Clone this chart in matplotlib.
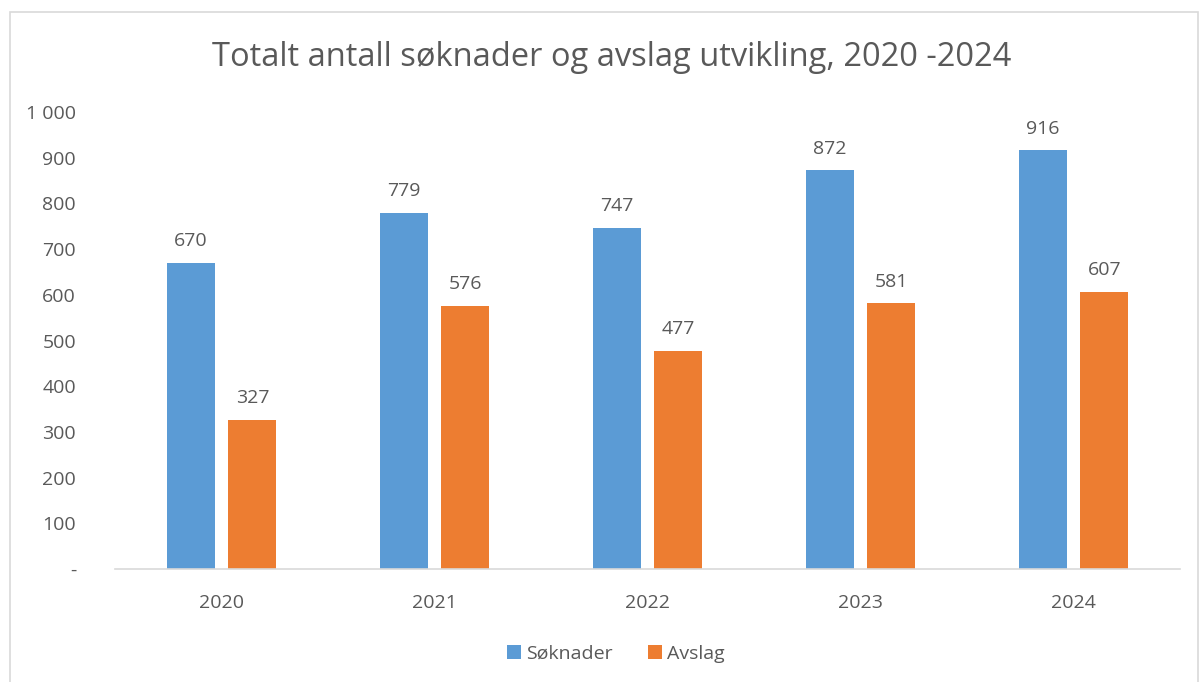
import matplotlib
matplotlib.use('Agg')
import matplotlib.pyplot as plt
import numpy as np
from matplotlib.patches import Rectangle

plt.rcParams['font.family'] = ['Open Sans', 'DejaVu Sans']

years = ['2020', '2021', '2022', '2023', '2024']
soknader = [670, 779, 747, 872, 916]
avslag = [327, 576, 477, 581, 607]
yticks = [0, 100, 200, 300, 400, 500, 600, 700, 800, 900, 1000]
ylabels = ['-', '100', '200', '300', '400', '500', '600', '700', '800', '900', '1 000']

blue = '#5b9bd5'
orange = '#ed7d31'
txt = '#595959'

fig = plt.figure(figsize=(12, 6.82), dpi=100)
ax = fig.add_axes([115 / 1200, 1 - 569 / 682, 1065 / 1200, 457 / 682])

# ramme rundt figuren
fig.patches.append(Rectangle((10 / 1200, -0.01), 1188 / 1200, 1 - 12 / 682 + 0.01,
                             transform=fig.transFigure, fill=False,
                             edgecolor='#d9d9d9', linewidth=1.2))

x = np.arange(len(years))
w = 0.225
b1 = ax.bar(x - 0.145, soknader, w, color=blue, label='Søknader')
b2 = ax.bar(x + 0.145, avslag, w, color=orange, label='Avslag')

for bars in (b1, b2):
    for r in bars:
        ax.text(r.get_x() + r.get_width() / 2, r.get_height() + 28, str(int(r.get_height())),
                ha='center', va='bottom', fontsize=14, color=txt)

ax.set_xlim(-0.5, 4.5)
ax.set_ylim(0, 1000)
ax.set_yticks(yticks)
ax.set_yticklabels(ylabels)
ax.set_xticks(x)
ax.set_xticklabels(years)
ax.tick_params(axis='both', length=0, labelsize=14, labelcolor=txt)
ax.tick_params(axis='x', pad=18)
ax.tick_params(axis='y', pad=28)
for s in ['top', 'right', 'left']:
    ax.spines[s].set_visible(False)
ax.spines['bottom'].set_color('#d9d9d9')
ax.spines['bottom'].set_linewidth(1.2)

fig.suptitle('Totalt antall søknader og avslag utvikling, 2020 -2024', x=612 / 1200,
             y=1 - 57 / 682, va='center', fontsize=23.5, color=txt)

leg = fig.legend(loc='center', bbox_to_anchor=(616 / 1200, 1 - 654 / 682), ncol=2,
                 frameon=False, fontsize=14, handlelength=0.7, handleheight=0.7,
                 handletextpad=0.3, columnspacing=1.8)
for t in leg.get_texts():
    t.set_color(txt)

fig.savefig('out.png', dpi=100)
